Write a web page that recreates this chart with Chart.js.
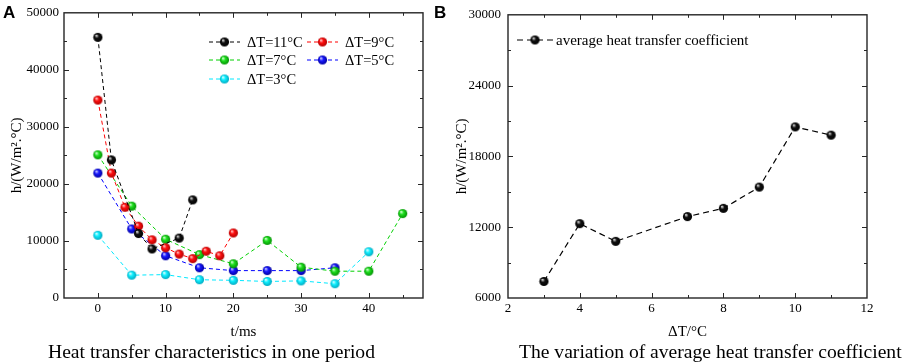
<!DOCTYPE html>
<html>
<head>
<meta charset="utf-8">
<title>Heat transfer coefficient</title>
<script src="https://cdn.jsdelivr.net/npm/chart.js@4.4.1/dist/chart.umd.min.js"></script>
<style>
  body { margin: 0; background: #fff; width: 906px; height: 362px; overflow: hidden; position: relative;
         font-family: "Liberation Serif", "Times New Roman", serif; }
  canvas { position: absolute; top: 0; }
  #chartA { left: 0; }
  #chartB { left: 453px; }
  .panel { position: absolute; font-family: "Liberation Sans", Arial, sans-serif; font-weight: bold;
           font-size: 17px; line-height: 17px; }
  .caption { position: absolute; top: 342px; font-size: 19.6px; line-height: 20px; white-space: nowrap; }
</style>
</head>
<body>
<canvas id="chartA" width="453" height="362"></canvas>
<canvas id="chartB" width="453" height="362"></canvas>
<div class="panel" style="left:3px;top:4px">A</div>
<div class="panel" style="left:434px;top:4px">B</div>
<div class="caption" style="left:48px">Heat transfer characteristics in one period</div>
<div class="caption" style="left:519px">The variation of average heat transfer coefficient</div>

<script>
// --- panel A: h over one period, one series per temperature difference ---
const seriesLabels = ['ΔT=11°C', 'ΔT=9°C', 'ΔT=7°C', 'ΔT=5°C', 'ΔT=3°C'];
const t11 = [0, 2, 6, 8, 12, 14];
const h11 = [45700, 24200, 11300, 8600, 10500, 17200];
const t9 = [0, 2, 4, 6, 8, 10, 12, 14, 16, 18, 20];
const h9 = [34700, 21900, 15900, 12600, 10200, 8800, 7700, 6900, 8200, 7400, 11400];
const t7 = [0, 5, 10, 15, 20, 25, 30, 35, 40, 45];
const h7 = [25100, 16100, 10300, 7600, 6000, 10100, 5400, 4700, 4700, 14800];
const t5 = [0, 5, 10, 15, 20, 25, 30, 35];
const h5 = [21900, 12100, 7400, 5300, 4800, 4800, 4800, 5300];
const t3 = [0, 5, 10, 15, 20, 25, 30, 35, 40];
const h3 = [11000, 4000, 4100, 3200, 3100, 2900, 3000, 2500, 8100];
const xTicksA = [0, 10, 20, 30, 40];
const yTicksA = [0, 10000, 20000, 30000, 40000, 50000];

// --- panel B: average coefficient vs temperature difference ---
const avgLabel = 'average heat transfer coefficient';
const dT = [3, 4, 5, 7, 8, 9, 10, 11];
const hAvg = [7400, 12300, 10800, 12900, 13600, 15400, 20500, 19800];
const xTicksB = [2, 4, 6, 8, 10, 12];
const yTicksB = [6000, 12000, 18000, 24000, 30000];

const serif = '"Liberation Serif", "Times New Roman", serif';

// shaded sphere markers like the Origin plot
function ball(color, dark, highlight) {
  const r = 4.6;
  const c = document.createElement('canvas');
  c.width = 11; c.height = 11;
  const g = c.getContext('2d');
  const grad = g.createRadialGradient(3.9, 3.6, 0.3, 5.5, 5.5, r);
  grad.addColorStop(0, highlight);
  grad.addColorStop(0.4, color);
  grad.addColorStop(1, dark);
  g.fillStyle = grad;
  g.beginPath();
  g.arc(5.5, 5.5, r, 0, Math.PI * 2);
  g.fill();
  return c;
}

const palette = [
  { line: '#000000', ball: ball('#111111', '#000000', '#e0e0e0') },
  { line: '#ff0000', ball: ball('#ff1010', '#b00000', '#ffd0d0') },
  { line: '#00d000', ball: ball('#20e020', '#009000', '#d8ffd8') },
  { line: '#0000ff', ball: ball('#1818ff', '#0000a0', '#d0d0ff') },
  { line: '#00e8ff', ball: ball('#10f0ff', '#00a8c0', '#e0ffff') }
];

function pts(xs, ys) {
  return xs.map((x, i) => ({ x: x, y: ys[i] }));
}

// closed frame with inward major/minor ticks on all four sides
const frameTicks = {
  id: 'frameTicks',
  afterDraw(chart, args, opts) {
    const { ctx, chartArea: a, scales: { x, y } } = chart;
    ctx.save();
    ctx.strokeStyle = '#262626';
    ctx.lineWidth = 1.4;
    ctx.strokeRect(a.left, a.top, a.right - a.left, a.bottom - a.top);
    ctx.lineWidth = 1;
    ctx.beginPath();
    for (let v = Math.ceil(x.min / opts.xStep) * opts.xStep; v <= x.max; v += opts.xStep) {
      if (v === x.min || v === x.max) continue;
      const len = Math.abs(v % opts.xMajor) < 1e-9 ? 5 : 3;
      const px = Math.round(x.getPixelForValue(v)) + 0.5;
      ctx.moveTo(px, a.bottom); ctx.lineTo(px, a.bottom - len);
      ctx.moveTo(px, a.top); ctx.lineTo(px, a.top + len);
    }
    for (let v = Math.ceil(y.min / opts.yStep) * opts.yStep; v <= y.max; v += opts.yStep) {
      if (v === y.min || v === y.max) continue;
      const len = Math.abs(v % opts.yMajor) < 1e-9 ? 5 : 3;
      const py = Math.round(y.getPixelForValue(v)) + 0.5;
      ctx.moveTo(a.left, py); ctx.lineTo(a.left + len, py);
      ctx.moveTo(a.right, py); ctx.lineTo(a.right - len, py);
    }
    ctx.stroke();
    ctx.restore();
  }
};

// legend drawn as "- -o- -  label" entries at fixed spots
const dashLegend = {
  id: 'dashLegend',
  afterDatasetsDraw(chart, args, opts) {
    const ctx = chart.ctx;
    ctx.save();
    ctx.font = opts.size + 'px ' + serif;
    ctx.textBaseline = 'middle';
    ctx.fillStyle = '#000';
    chart.data.datasets.forEach((ds, i) => {
      const p = opts.items[i];
      ctx.strokeStyle = ds.borderColor;
      ctx.lineWidth = ds.borderWidth;
      ctx.setLineDash(ds.borderDash);
      ctx.beginPath();
      ctx.moveTo(p.x, p.y);
      ctx.lineTo(p.x + opts.lineLen, p.y);
      ctx.stroke();
      const img = ds.pointStyle;
      ctx.drawImage(img, p.x + opts.lineLen / 2 - img.width / 2, p.y - img.height / 2);
      ctx.fillText(ds.label, p.x + opts.textGap, p.y + 1);
    });
    ctx.restore();
  }
};

function axis(min, max, tickVals, title, width, titlePad, tickPad, isX) {
  return {
    type: 'linear',
    min: min,
    max: max,
    grid: { display: false, drawTicks: false },
    border: { display: false },
    afterBuildTicks: s => { s.ticks = tickVals.map(v => ({ value: v })); },
    afterFit: s => { if (isX) s.height = width; else s.width = width; },
    ticks: {
      padding: tickPad,
      color: '#000',
      font: { family: serif, size: 13 },
      maxRotation: 0,
      callback: v => String(v)
    },
    title: {
      display: true,
      text: title,
      color: '#000',
      font: { family: serif, size: 15 },
      padding: isX ? { top: 0, bottom: 21 } : { top: titlePad, bottom: 0 }
    }
  };
}

new Chart(document.getElementById('chartA'), {
  type: 'line',
  data: {
    datasets: [
      [t11, h11], [t9, h9], [t7, h7], [t5, h5], [t3, h3]
    ].map((s, i) => ({
      label: seriesLabels[i],
      data: pts(s[0], s[1]),
      borderColor: palette[i].line,
      borderWidth: 1,
      borderDash: [4, 3],
      pointStyle: palette[i].ball,
      pointRadius: 5,
      fill: false,
      tension: 0
    }))
  },
  options: {
    responsive: false,
    animation: false,
    layout: { padding: { left: 0, right: 30, top: 9, bottom: 0 } },
    scales: {
      x: axis(-5, 48, xTicksA, 't/ms', 64, 0, 3, true),
      y: axis(0, 50000, yTicksA, 'h/(W/m².°C)', 64, 8, 5, false)
    },
    plugins: {
      legend: { display: false },
      tooltip: { enabled: false },
      frameTicks: { xStep: 5, xMajor: 10, yStep: 5000, yMajor: 10000 },
      dashLegend: {
        size: 14.5, lineLen: 31, textGap: 38,
        items: [{ x: 209, y: 42 }, { x: 307, y: 42 }, { x: 209, y: 60 }, { x: 307, y: 60 }, { x: 209, y: 79 }]
      }
    }
  },
  plugins: [frameTicks, dashLegend]
});

new Chart(document.getElementById('chartB'), {
  type: 'line',
  data: {
    datasets: [{
      label: avgLabel,
      data: pts(dT, hAvg),
      borderColor: '#000',
      borderWidth: 1.2,
      borderDash: [6, 4],
      pointStyle: palette[0].ball,
      pointRadius: 5,
      fill: false,
      tension: 0
    }]
  },
  options: {
    responsive: false,
    animation: false,
    layout: { padding: { left: 0, right: 39, top: 9, bottom: 0 } },
    scales: {
      x: axis(2, 12, xTicksB, 'ΔT/°C', 64, 0, 3, true),
      y: axis(6000, 30000, yTicksB, 'h/(W/m².°C)', 55, 0, 7, false)
    },
    plugins: {
      legend: { display: false },
      tooltip: { enabled: false },
      frameTicks: { xStep: 1, xMajor: 2, yStep: 3000, yMajor: 6000 },
      dashLegend: { size: 15, lineLen: 36, textGap: 39, items: [{ x: 64, y: 40 }] }
    }
  },
  plugins: [frameTicks, dashLegend]
});
</script>
</body>
</html>
